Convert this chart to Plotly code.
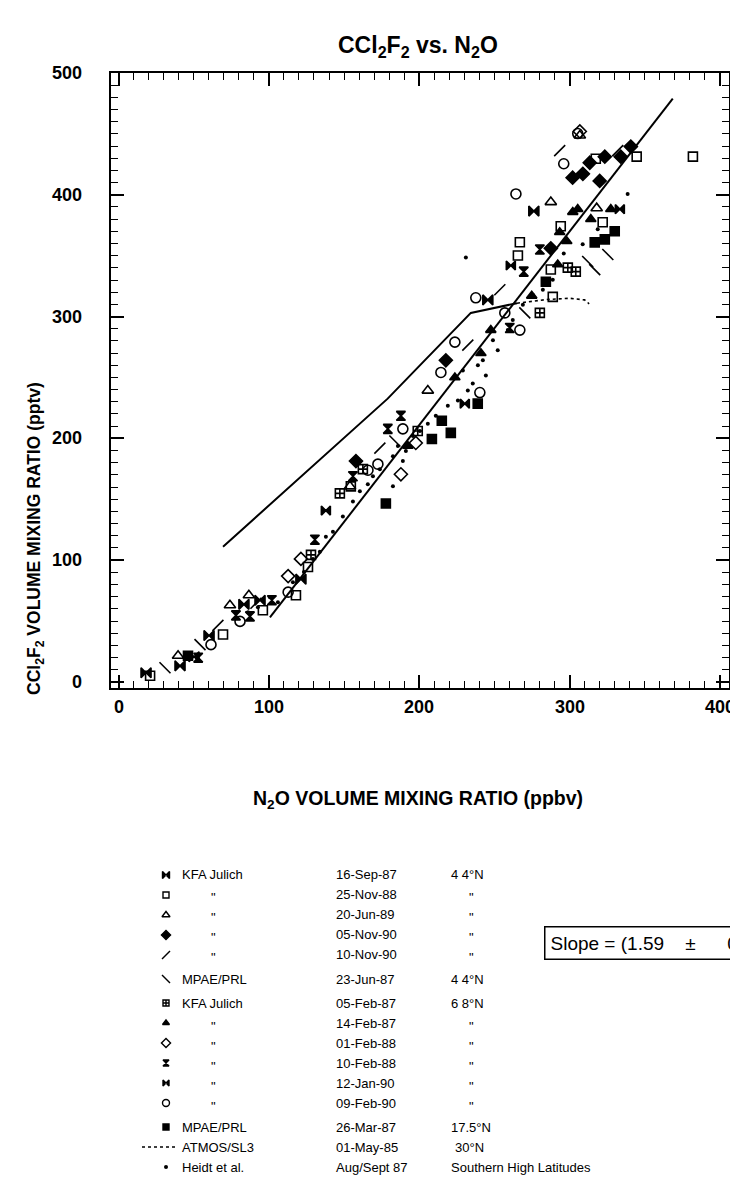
import plotly.graph_objects as go

W, H = 738, 1191
FONT = "Liberation Sans, Arial, Helvetica, sans-serif"

# ---------------- data: N2O (ppbv) vs CCl2F2 (pptv) ----------------
# KFA Julich 16-Sep-87 44N
sep87_x = [18.3, 40.9, 50.2, 60.2, 83.4, 94.1, 121.3, 245.6, 276.2]
sep87_y = [7.5, 13.2, 20.7, 38.1, 63.7, 67.1, 84.4, 313.7, 386.6]
# KFA Julich 25-Nov-88
nov88_x = [21.0, 69.5, 96.0, 118.0, 126.0, 154.5, 265.6, 266.9, 294.1, 317.4, 322.0, 344.6, 382.0, 288.8, 287.5]
nov88_y = [5.0, 38.9, 58.8, 71.2, 94.4, 160.6, 350.2, 361.0, 374.2, 429.6, 377.5, 431.3, 431.3, 316.2, 338.6]
# KFA Julich 20-Jun-89
jun89_x = [39.6, 74.1, 86.7, 153.9, 205.7, 287.5, 318.0, 306.8]
jun89_y = [21.5, 62.9, 71.2, 160.6, 239.2, 394.0, 389.0, 448.7]
# KFA Julich 05-Nov-90
nov90a_x = [157.9, 217.7, 287.5, 313.4, 323.4, 334.0, 340.7, 308.8, 320.0, 302.0]
nov90a_y = [181.3, 264.1, 356.0, 426.3, 431.3, 431.3, 439.6, 417.2, 411.4, 414.0]
# KFA Julich 10-Nov-90
nov90b_x = [66.1, 91.4, 173.8, 232.3, 253.6, 293.4, 332.0]
nov90b_y = [46.4, 64.6, 192.0, 276.5, 322.0, 436.3, 436.3]
# MPAE/PRL 23-Jun-87 44N
jun87_x = [30.9, 54.2, 183.8, 270.2, 312.0, 316.7, 325.4]
jun87_y = [11.6, 30.6, 197.8, 303.0, 345.2, 338.6, 351.0]
# KFA Julich 05-Feb-87 68N
feb87a_x = [128.0, 147.2, 162.5, 199.0, 280.2, 298.8, 304.1]
feb87a_y = [104.3, 154.8, 174.7, 206.0, 303.0, 340.2, 336.9]
# KFA Julich 14-Feb-87
feb87b_x = [223.7, 274.8, 292.1, 293.4, 298.1, 305.4, 302.1, 314.1, 327.4, 247.6, 241.0, 192.4]
feb87b_y = [250.0, 317.0, 342.7, 369.2, 361.8, 388.2, 385.8, 380.0, 388.2, 288.9, 269.9, 193.7]
# KFA Julich 01-Feb-88
feb88a_x = [112.8, 121.3, 187.8, 197.7, 306.8]
feb88a_y = [86.9, 101.0, 170.5, 196.2, 452.0]
# KFA Julich 10-Feb-88
feb88b_x = [53.0, 78.1, 87.4, 102.0, 130.6, 155.9, 179.1, 187.8, 269.5, 280.2, 260.2]
feb88b_y = [19.9, 54.6, 53.8, 67.1, 116.7, 168.9, 207.8, 218.5, 336.9, 355.1, 290.6]
# KFA Julich 12-Jan-90
jan90_x = [137.9, 230.3, 260.9, 333.4]
jan90_y = [140.7, 228.5, 341.9, 388.2]
# KFA Julich 09-Feb-90
feb90_x = [61.5, 80.8, 112.8, 165.9, 172.5, 189.1, 214.4, 223.7, 240.3, 237.6, 256.9, 266.9, 264.3, 296.1, 305.4]
feb90_y = [30.6, 49.7, 73.7, 173.8, 178.8, 207.8, 254.1, 279.0, 237.6, 315.4, 303.0, 288.9, 400.7, 425.5, 450.3]
# MPAE/PRL 26-Mar-87 17.5N
mar87_x = [46.2, 177.8, 208.4, 215.0, 221.0, 238.9, 284.2, 316.7, 323.4, 330.0]
mar87_y = [21.5, 146.5, 199.5, 214.4, 204.5, 228.5, 328.6, 360.9, 363.4, 370.0]
# ATMOS/SL3 01-May-85 30N
atmos_x = [69.5, 112.7, 179.0, 234.3, 265.0, 285.0, 300.0, 310.0, 313.0]
atmos_y = [111.0, 159.0, 232.6, 303.0, 311.0, 314.0, 315.0, 313.7, 310.5]
atmos_solid_n = 5
# Heidt et al., Aug/Sept 87, southern high latitudes
heidt_x = [86.1, 92.7, 100.7, 106.0, 116.0, 123.3, 129.3, 133.9, 137.9, 142.6, 149.2, 155.9, 160.5,
           165.8, 169.2, 173.8, 182.5, 185.8, 191.1, 195.8, 200.4, 205.7, 211.0, 219.0, 225.7, 232.3,
           235.6, 242.3, 244.3, 249.0, 252.2, 258.9, 262.2, 268.9, 275.5, 282.2, 288.8, 296.1, 231.0,
           308.7, 318.7, 338.6, 182.5, 189.1, 229.0, 239.0]
heidt_y = [57.1, 61.3, 69.5, 65.4, 81.9, 90.2, 101.0, 106.8, 119.2, 123.3, 135.8, 148.2, 156.5,
           162.3, 168.9, 174.7, 185.4, 193.7, 189.6, 202.0, 206.1, 211.9, 218.5, 226.8, 231.0, 239.2,
           245.0, 264.1, 251.7, 280.6, 272.4, 288.9, 297.2, 309.6, 317.9, 322.0, 330.3, 351.8, 348.5,
           359.3, 371.7, 400.7, 160.6, 181.3, 255.8, 260.0]
# linear fit, slope 1.59
fit_x = [100.7, 368.6]
fit_y = [53.0, 479.0]

# axis tick labels
x_ticks = [0, 100, 200, 300, 400]
y_ticks = [0, 100, 200, 300, 400, 500]

# legend text
leg_names = ["KFA Julich", '"', '"', '"', '"', "MPAE/PRL", "KFA Julich", '"', '"', '"', '"', '"',
             "MPAE/PRL", "ATMOS/SL3", "Heidt et al."]
leg_dates = ["16-Sep-87", "25-Nov-88", "20-Jun-89", "05-Nov-90", "10-Nov-90", "23-Jun-87", "05-Feb-87",
             "14-Feb-87", "01-Feb-88", "10-Feb-88", "12-Jan-90", "09-Feb-90", "26-Mar-87", "01-May-85",
             "Aug/Sept 87"]
leg_lats = ["4 4°N", '"', '"', '"', '"', "4 4°N", "6 8°N", '"', '"', '"', '"', '"', "17.5°N", "30°N",
            "Southern High Latitudes"]

series = [
    (sep87_x, sep87_y, "bowtie", 10),
    (nov88_x, nov88_y, "square-open", 9),
    (jun89_x, jun89_y, "triangle-up-open", 10),
    (nov90a_x, nov90a_y, "diamond", 10),
    (nov90b_x, nov90b_y, "line-ne", 11),
    (jun87_x, jun87_y, "line-nw", 11),
    (feb87a_x, feb87a_y, "square-cross-open", 9),
    (feb87b_x, feb87b_y, "triangle-up", 9),
    (feb88a_x, feb88a_y, "diamond-open", 10),
    (feb88b_x, feb88b_y, "hourglass", 9),
    (jan90_x, jan90_y, "bowtie", 9),
    (feb90_x, feb90_y, "circle-open", 10),
    (mar87_x, mar87_y, "square", 9),
]

fig = go.Figure()

# main panel
fig.add_trace(go.Scatter(x=fit_x, y=fit_y, mode="lines", line=dict(color="black", width=2), hoverinfo="skip"))
fig.add_trace(go.Scatter(x=atmos_x[:atmos_solid_n], y=atmos_y[:atmos_solid_n], mode="lines",
                         line=dict(color="black", width=2)))
fig.add_trace(go.Scatter(x=atmos_x[atmos_solid_n - 1:], y=atmos_y[atmos_solid_n - 1:], mode="lines",
                         line=dict(color="black", width=1.6, dash="dot")))
fig.add_trace(go.Scatter(x=heidt_x, y=heidt_y, mode="markers",
                         marker=dict(symbol="circle", size=4, color="black")))
for sx, sy, sym, sz in series:
    fig.add_trace(go.Scatter(x=sx, y=sy, mode="markers",
                             marker=dict(symbol=sym, size=sz, color="black",
                                         line=dict(color="black", width=1.6))))

# legend panel (helper axes in pixel units)
row_y = []
y = 867.0
for i in range(15):
    row_y.append(y)
    y += 20.0
    if i in (4, 5, 11):
        y += 4.0
sym_x = 158.0
name_x = 172.0
name_ditto_x = 205.0
date_x = 326.0
lat_x = 441.0
lat_ditto_x = 463.0
LF = 13
leg_syms = [s[2] for s in series]
leg_sizes = [s[3] for s in series]
for i, sym in enumerate(leg_syms):
    fig.add_trace(go.Scatter(x=[sym_x], y=[row_y[i]], xaxis="x2", yaxis="y2", mode="markers",
                             marker=dict(symbol=sym, size=leg_sizes[i] - 3, color="black",
                                         line=dict(color="black", width=1.4))))
fig.add_trace(go.Scatter(x=[sym_x - 24, name_x - 2], y=[row_y[13], row_y[13]], xaxis="x2", yaxis="y2",
                         mode="lines", line=dict(color="black", width=1.3, dash="dot")))
fig.add_trace(go.Scatter(x=[sym_x], y=[row_y[14]], xaxis="x2", yaxis="y2", mode="markers",
                         marker=dict(symbol="circle", size=4, color="black")))

ann = []
for i in range(15):
    nm = leg_names[i]
    if nm == '"':
        ann.append(dict(x=name_ditto_x, y=row_y[i] + 3, xref="x2", yref="y2", text=nm, showarrow=False,
                        xanchor="center", font=dict(family=FONT, size=LF, color="black")))
    else:
        ann.append(dict(x=name_x, y=row_y[i], xref="x2", yref="y2", text=nm,
                        showarrow=False, xanchor="left", font=dict(family=FONT, size=LF, color="black")))
    ann.append(dict(x=date_x, y=row_y[i], xref="x2", yref="y2", text=leg_dates[i], showarrow=False,
                    xanchor="left", font=dict(family=FONT, size=LF, color="black")))
    lt = leg_lats[i]
    if lt == '"':
        ann.append(dict(x=lat_ditto_x, y=row_y[i] + 3, xref="x2", yref="y2", text=lt, showarrow=False,
                        xanchor="center", font=dict(family=FONT, size=LF, color="black")))
    else:
        ann.append(dict(x=lat_x + (4 if i == 13 else 0), y=row_y[i], xref="x2", yref="y2",
                        text=lt, showarrow=False, xanchor="left",
                        font=dict(family=FONT, size=LF, color="black")))

# tick labels
tickfont = dict(family=FONT, size=18, color="black", weight="bold")
for v in x_ticks:
    ann.append(dict(x=v, xref="x", y=1 - 699 / H, yref="paper", text=str(v), showarrow=False,
                    xanchor="center", yanchor="middle", font=tickfont))
for v in y_ticks:
    ann.append(dict(x=76 / W, xref="paper", y=v, yref="y", text=str(v), showarrow=False,
                    xanchor="right", yanchor="middle", font=tickfont))

# titles
ann.append(dict(x=410 / W, y=1 - 22 / H, xref="paper", yref="paper", showarrow=False,
                text="CCl<sub>2</sub>F<sub>2</sub> vs. N<sub>2</sub>O",
                font=dict(family=FONT, size=23, color="black", weight="bold")))
ann.append(dict(x=410 / W, y=1 - 792 / H, xref="paper", yref="paper", showarrow=False,
                text="N<sub>2</sub>O VOLUME MIXING RATIO (ppbv)",
                font=dict(family=FONT, size=19.5, color="black", weight="bold")))
ann.append(dict(x=14 / W, y=1 - 372 / H, xref="paper", yref="paper", showarrow=False, textangle=-90,
                text="CCl<sub>2</sub>F<sub>2</sub> VOLUME MIXING RATIO (pptv)",
                font=dict(family=FONT, size=17.5, color="black", weight="bold")))
ann.append(dict(x=536 / W, y=1 - 952 / H, xref="paper", yref="paper", showarrow=False, xanchor="left",
                text="Slope = (1.59    ±      0.05)", bordercolor="black", borderwidth=1.5, borderpad=5,
                bgcolor="white", font=dict(family=FONT, size=19, color="black")))

fig.update_layout(
    width=W, height=H, margin=dict(l=0, r=0, t=0, b=0), showlegend=False,
    paper_bgcolor="white", plot_bgcolor="rgba(0,0,0,0)",
    annotations=ann,
    xaxis=dict(domain=[103 / W, 721 / W], range=[-5, 406], tickmode="linear", tick0=0, dtick=100,
               ticks="inside", ticklen=13, tickwidth=1.5, tickcolor="black", showticklabels=False,
               minor=dict(dtick=10, ticks="inside", ticklen=7, tickwidth=1.2, tickcolor="black"),
               showline=True, linewidth=2, linecolor="black", mirror="allticks",
               showgrid=False, zeroline=False, anchor="y"),
    yaxis=dict(domain=[1 - 680 / H, 1 - 65 / H], range=[-5, 500], tickmode="linear", tick0=0, dtick=100,
               ticks="inside", ticklen=13, tickwidth=1.5, tickcolor="black", showticklabels=False,
               minor=dict(dtick=10, ticks="inside", ticklen=7, tickwidth=1.2, tickcolor="black"),
               showline=True, linewidth=2, linecolor="black", mirror="allticks",
               showgrid=False, zeroline=False, anchor="x"),
    xaxis2=dict(domain=[0, 1], range=[0, W], visible=False, anchor="y2", fixedrange=True),
    yaxis2=dict(domain=[0, 0.3], range=[H, H * 0.7], visible=False, anchor="x2", fixedrange=True),
)

fig.write_html("out.html")
